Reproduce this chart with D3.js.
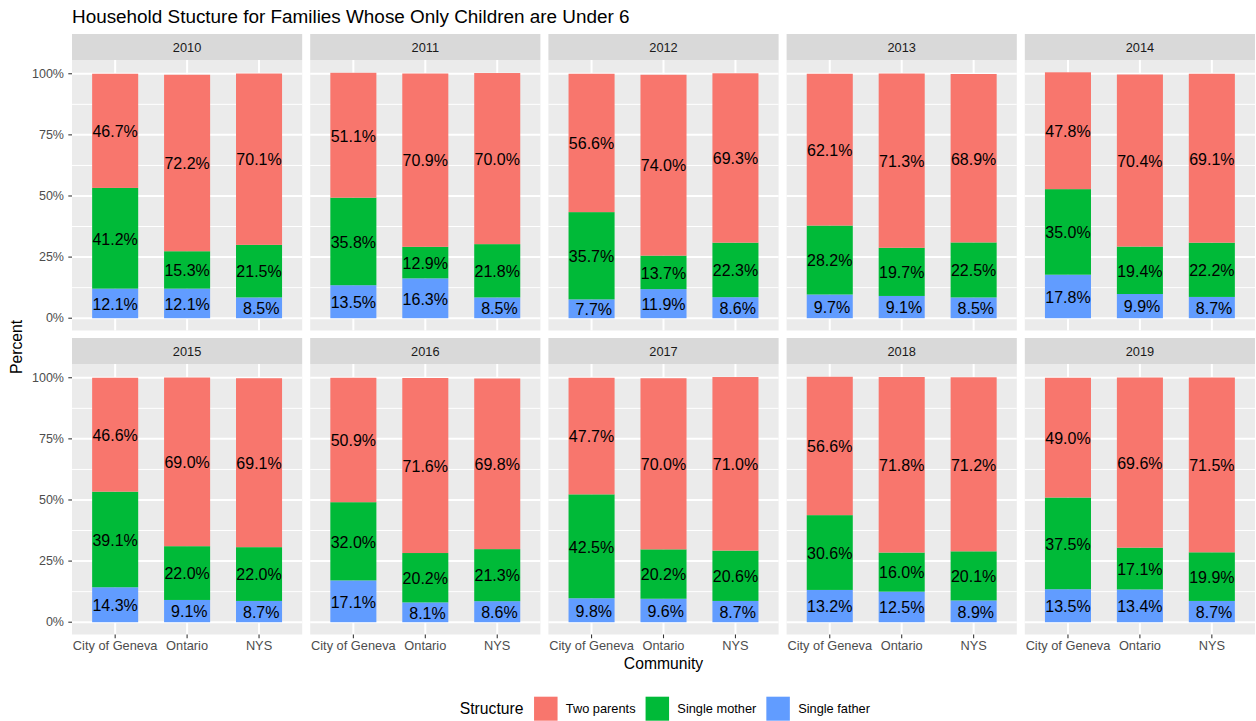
<!DOCTYPE html>
<html>
<head>
<meta charset="utf-8">
<script src="https://cdn.jsdelivr.net/npm/d3@7"></script>
<style>
html,body{margin:0;padding:0;background:#fff;}
svg{display:block;font-family:"Liberation Sans",Arial,Helvetica,sans-serif;}
</style>
</head>
<body>
<svg id="chart" width="1256" height="721"></svg>
<script>
// ---- data ----
const years = ["2010","2011","2012","2013","2014","2015","2016","2017","2018","2019"];
const communities = ["City of Geneva","Ontario","NYS"];
const structures = ["Two parents","Single mother","Single father"];
const colors = ["#F8766D","#00BA38","#619CFF"];
// values per year, in order of communities [Geneva, Ontario, NYS]
const twoParents = [
  [46.7,72.2,70.1],[51.1,70.9,70.0],[56.6,74.0,69.3],[62.1,71.3,68.9],[47.8,70.4,69.1],
  [46.6,69.0,69.1],[50.9,71.6,69.8],[47.7,70.0,71.0],[56.6,71.8,71.2],[49.0,69.6,71.5]
];
const singleMother = [
  [41.2,15.3,21.5],[35.8,12.9,21.8],[35.7,13.7,22.3],[28.2,19.7,22.5],[35.0,19.4,22.2],
  [39.1,22.0,22.0],[32.0,20.2,21.3],[42.5,20.2,20.6],[30.6,16.0,20.1],[37.5,17.1,19.9]
];
const singleFather = [
  [12.1,12.1,8.5],[13.5,16.3,8.5],[7.7,11.9,8.6],[9.7,9.1,8.5],[17.8,9.9,8.7],
  [14.3,9.1,8.7],[17.1,8.1,8.6],[9.8,9.6,8.7],[13.2,12.5,8.9],[13.5,13.4,8.7]
];
const yTicks = [0,25,50,75,100];
const yTickLabels = ["0%","25%","50%","75%","100%"];
const title = "Household Stucture for Families Whose Only Children are Under 6";
const xTitle = "Community";
const yTitle = "Percent";
const legendTitle = "Structure";

// ---- layout ----
const svg = d3.select("#chart");
const left = 72, right = 1255, colGap = 8, nCols = 5;
const pw = (right - left - colGap*(nCols-1))/nCols;
const rowTops = [34, 338];
const stripH = 26, ph = 270.5;
const smallFont = "12.8px";

const seriesVals = [twoParents, singleMother, singleFather];
// stacking order bottom->top: Single father, Single mother, Two parents
const stackOrder = [2,1,0];

let maxTotal = 0;
years.forEach((y,i)=>communities.forEach((c,j)=>{
  const t = twoParents[i][j]+singleMother[i][j]+singleFather[i][j];
  if (t>maxTotal) maxTotal=t;
}));

const x = d3.scalePoint().domain(communities).range([0,pw]).padding(0.6);
const step = x.step();
const barW = step*0.64;
const y = d3.scaleLinear().domain([-0.05*maxTotal, 1.05*maxTotal]).range([ph,0]);

const fmt = v => (v<10?" ":"") + v.toFixed(1) + "%";

years.forEach((yr,i)=>{
  const col = i % nCols, row = Math.floor(i / nCols);
  const px = left + col*(pw+colGap);
  const sy = rowTops[row];
  const py = sy + stripH;
  // strip
  svg.append("rect").attr("x",px).attr("y",sy).attr("width",pw).attr("height",stripH).attr("fill","#D9D9D9");
  svg.append("text").attr("x",px+pw/2).attr("y",sy+stripH/2).attr("text-anchor","middle")
    .attr("dominant-baseline","central").attr("font-size",smallFont).attr("fill","#1A1A1A").text(yr);
  const g = svg.append("g").attr("transform",`translate(${px},${py})`);
  g.append("rect").attr("width",pw).attr("height",ph).attr("fill","#EBEBEB");
  // minor grid
  const minor = [12.5,37.5,62.5,87.5].filter(v=>y(v)>=0 && y(v)<=ph);
  g.selectAll(".mn").data(minor).enter().append("line")
    .attr("x1",0).attr("x2",pw).attr("y1",d=>y(d)).attr("y2",d=>y(d))
    .attr("stroke","#fff").attr("stroke-width",1);
  g.selectAll(".mj").data(yTicks).enter().append("line")
    .attr("x1",0).attr("x2",pw).attr("y1",d=>y(d)).attr("y2",d=>y(d))
    .attr("stroke","#fff").attr("stroke-width",2);
  g.selectAll(".vx").data(communities).enter().append("line")
    .attr("x1",d=>x(d)).attr("x2",d=>x(d)).attr("y1",0).attr("y2",ph)
    .attr("stroke","#fff").attr("stroke-width",2);
  // bars
  communities.forEach((c,j)=>{
    let base = 0;
    stackOrder.forEach(s=>{
      const v = seriesVals[s][i][j];
      const y0 = base, y1 = base + v;
      g.append("rect").attr("x",x(c)-barW/2).attr("width",barW)
        .attr("y",y(y1)).attr("height",y(y0)-y(y1)).attr("fill",colors[s]);
      base = y1;
    });
  });
  communities.forEach((c,j)=>{
    let base = 0;
    stackOrder.forEach(s=>{
      const v = seriesVals[s][i][j];
      const mid = base + v/2;
      g.append("text").attr("x",x(c)).attr("y",y(mid)).attr("text-anchor","middle")
        .attr("dominant-baseline","central").attr("dy","0.05em")
        .style("white-space","pre").attr("font-size","16px").attr("fill","#000").text(fmt(v));
      base += v;
    });
  });
  // y axis on first column
  if (col===0){
    const ya = g.append("g");
    ya.selectAll("line").data(yTicks).enter().append("line")
      .attr("x1",-3.7).attr("x2",0).attr("y1",d=>y(d)).attr("y2",d=>y(d))
      .attr("stroke","#333333").attr("stroke-width",1.07);
    ya.selectAll("text").data(yTicks).enter().append("text")
      .attr("x",-8).attr("y",d=>y(d)).attr("text-anchor","end").attr("dominant-baseline","central")
      .attr("font-size","12.5px").attr("fill","#4D4D4D").text((d,k)=>yTickLabels[k]);
  }
  // x axis on bottom row
  if (row===1){
    const xa = g.append("g").attr("transform",`translate(0,${ph})`);
    xa.selectAll("line").data(communities).enter().append("line")
      .attr("x1",d=>x(d)).attr("x2",d=>x(d)).attr("y1",0).attr("y2",3.7)
      .attr("stroke","#333333").attr("stroke-width",1.07);
    xa.selectAll("text").data(communities).enter().append("text")
      .attr("x",d=>x(d)).attr("y",15).attr("text-anchor","middle")
      .attr("font-size",smallFont).attr("fill","#4D4D4D").text(d=>d);
  }
});

// titles
svg.append("text").attr("x",72).attr("y",23.3).attr("font-size","18.9px").attr("fill","#000").text(title);
const panelCx = (left+right)/2;
svg.append("text").attr("x",panelCx).attr("y",668.5).attr("text-anchor","middle")
  .attr("font-size","15.7px").attr("fill","#000").text(xTitle);
svg.append("text").attr("transform",`translate(22,347) rotate(-90)`).attr("text-anchor","middle")
  .attr("font-size","15.7px").attr("fill","#000").text(yTitle);

// legend
const lg = svg.append("g");
const ly = 708.7;
const lt = lg.append("text").attr("x",0).attr("y",ly).attr("dominant-baseline","central")
  .attr("font-size","15.7px").attr("fill","#000").text(legendTitle);
let cx = lt.node().getComputedTextLength() + 10.6;
structures.forEach((s,k)=>{
  lg.append("rect").attr("x",cx).attr("y",ly-12).attr("width",23.5).attr("height",24).attr("fill",colors[k]);
  cx += 23.5 + 8.3;
  const t = lg.append("text").attr("x",cx).attr("y",ly).attr("dominant-baseline","central")
    .attr("font-size",smallFont).attr("fill","#000").text(s);
  cx += t.node().getComputedTextLength();
  if (k<structures.length-1) cx += 10;
});
lg.attr("transform",`translate(${664.9 - cx/2},0)`);
</script>
</body>
</html>
